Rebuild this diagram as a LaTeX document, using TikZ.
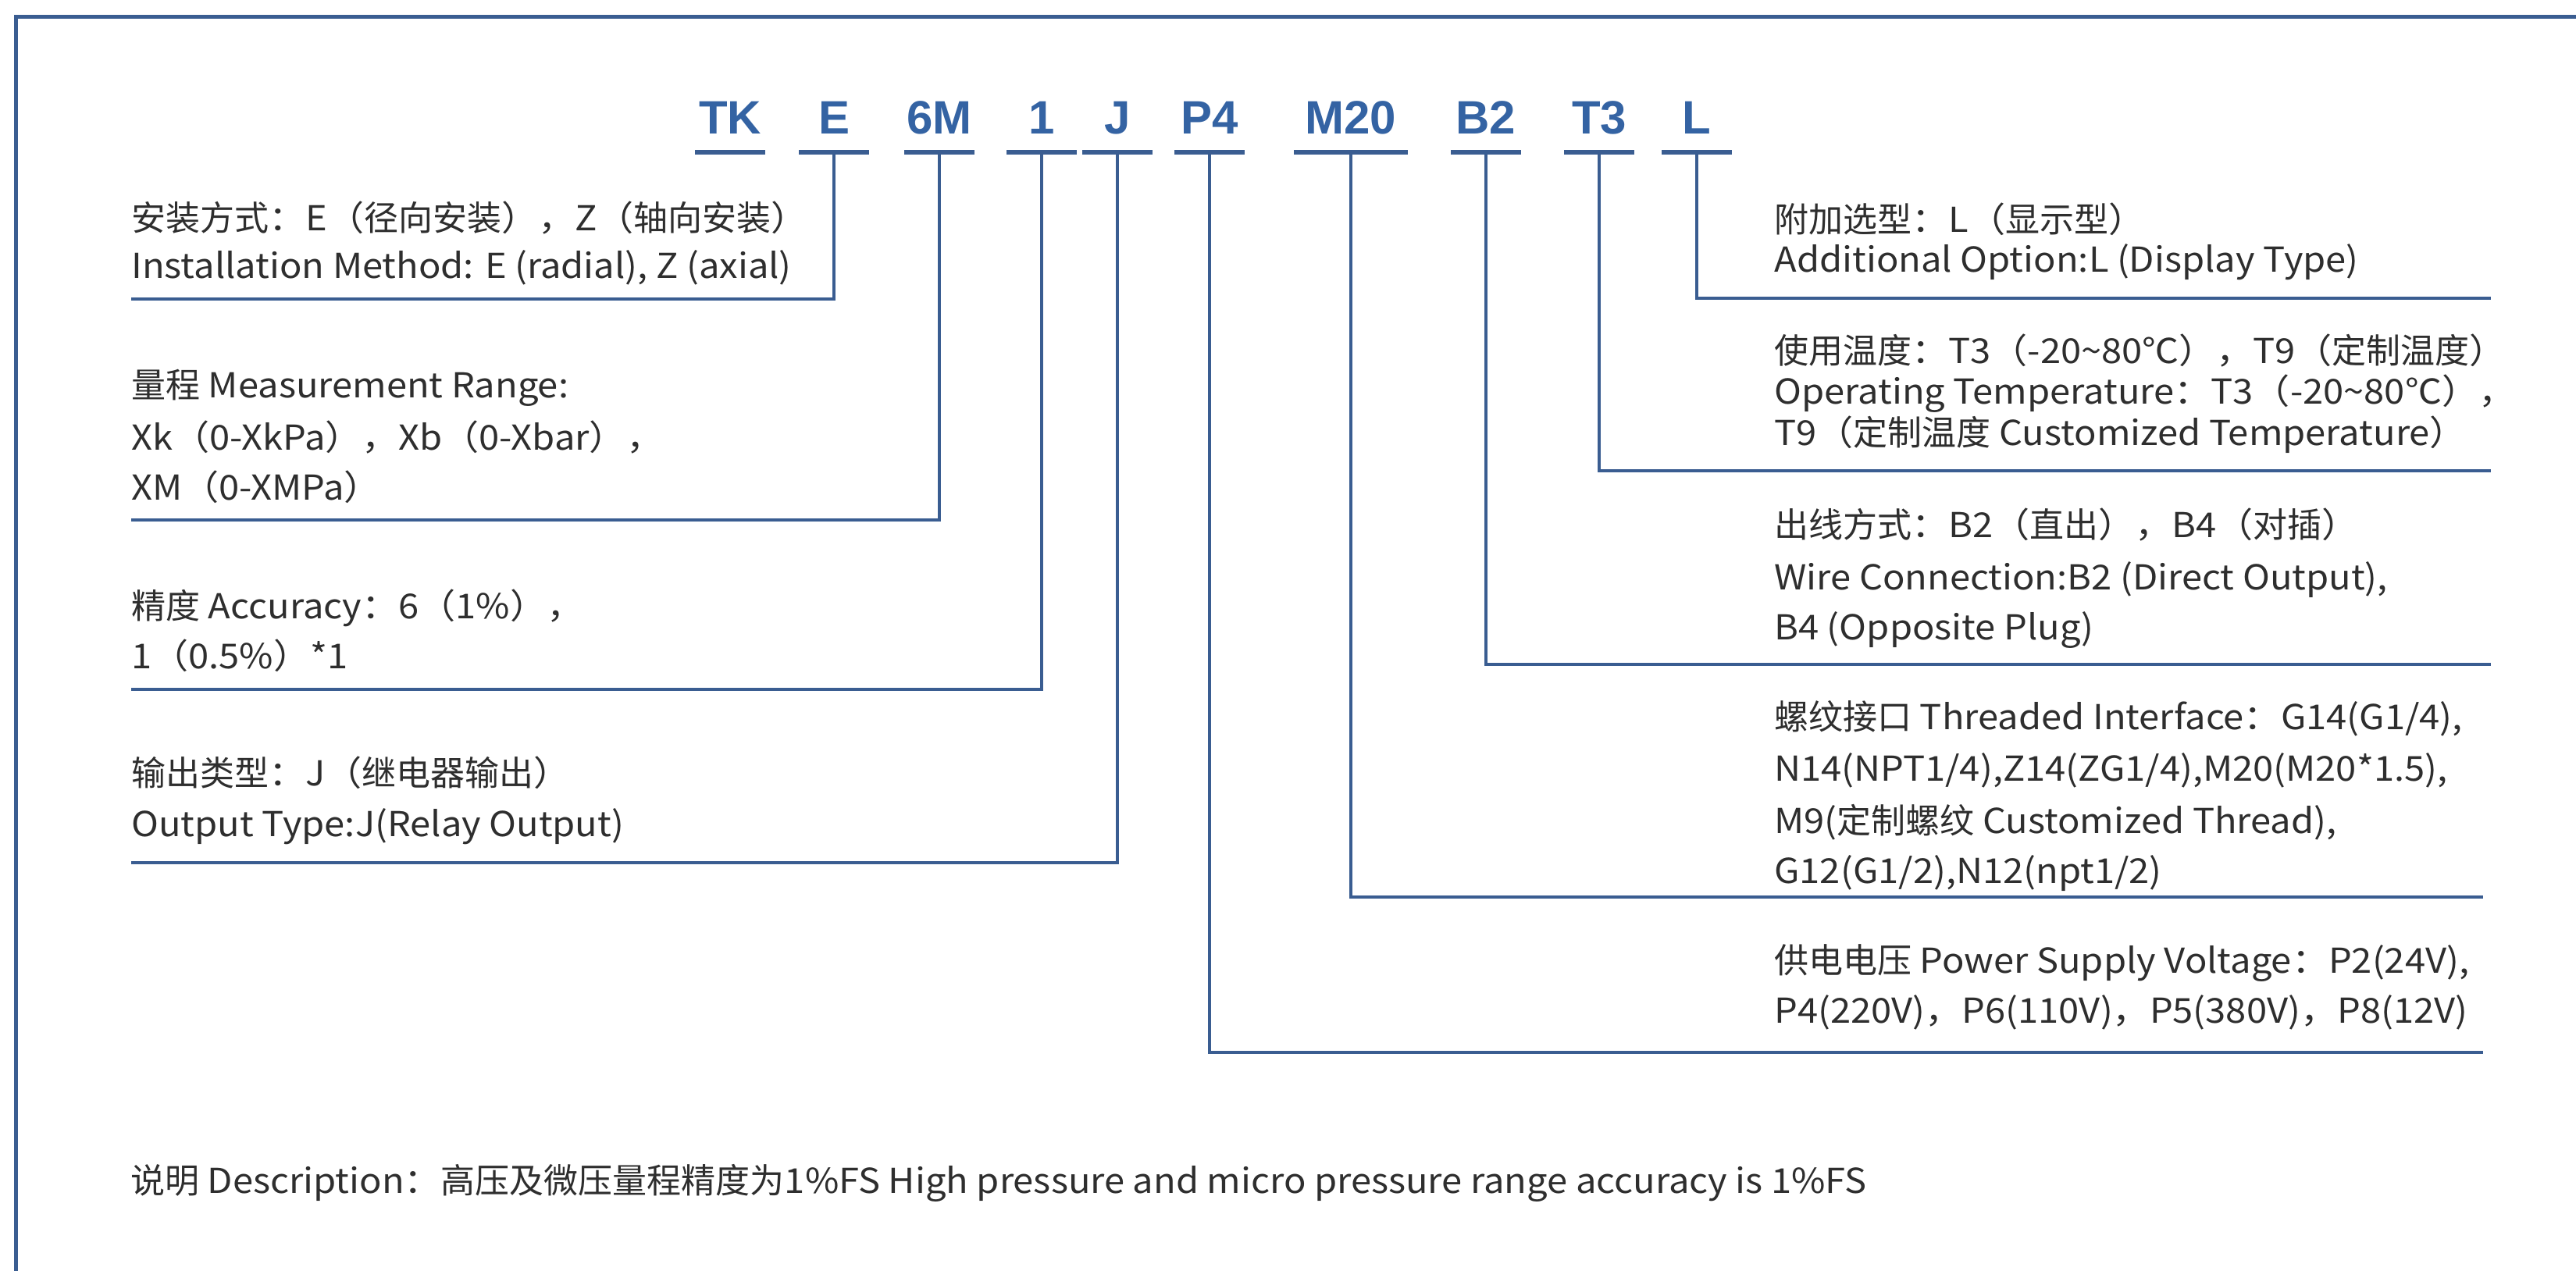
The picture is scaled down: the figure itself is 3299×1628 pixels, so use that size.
\documentclass[tikz,border=0pt]{standalone}
\usepackage{fontspec}
\setmainfont{Noto Sans CJK SC}[FakeStretch=1.07]
\newfontfamily\zhfont{Noto Sans CJK SC}
\newcommand\zh[1]{{\zhfont #1}}
\newfontfamily\codefont{Liberation Sans}
\definecolor{lineblue}{HTML}{3A5D91}
\definecolor{codeblue}{HTML}{3463A3}
\definecolor{txt}{HTML}{2E2E2E}
\newcommand\codeitem[4]{%
  \node[code] (c#1) at (#2,171) {#3};
  \coordinate (b#1) at (#2,195);
  \draw[bar] (#2-#4,195) -- (#2+#4,195);
}
\newcommand\dline[4]{\node[desc] (#1) at (#2,#3+15) {#4};}
\begin{document}
\begin{tikzpicture}[x=0.5pt,y=-0.5pt,
  desc/.style={anchor=base west, inner sep=0pt,
    font=\fontsize{22}{26}\selectfont, text=txt},
  code/.style={inner sep=0pt, anchor=base,
    font=\codefont\bfseries\fontsize{30}{32}\selectfont, text=codeblue},
  bar/.style={line width=3pt, draw=lineblue},
  conn/.style={line width=2.3pt, draw=lineblue},
  framestyle/.style={line width=2.5pt, draw=lineblue}]
\useasboundingbox (0,0) rectangle (3299,1628);
\fill[white] (0,0) rectangle (3299,1628);
% frame
\coordinate (fTL) at (20,21);
\coordinate (fTR) at (3299,21);
\coordinate (fBL) at (20,1628);
\draw[framestyle] (fTR) -- (fTL) -- (fBL);
% code letters
\codeitem{TK}{935}{TK}{45}
\codeitem{E}{1068}{E}{45}
\codeitem{R}{1203}{6M}{45}
\codeitem{A}{1334}{1}{45}
\codeitem{J}{1431}{J}{45}
\codeitem{P}{1549}{P4}{45}
\codeitem{M}{1730}{M20}{73}
\codeitem{B}{1903}{B2}{45}
\codeitem{T}{2048}{T3}{45}
\codeitem{L}{2173}{L}{45}
% left descriptions
\dline{d1}{168}{280}{\zh{安装方式}：E（\zh{径向安装}），Z（\zh{轴向安装}）}
\dline{d2}{168}{341}{Installation Method: E (radial), Z (axial)}
\dline{d3}{168}{494}{\zh{量程} Measurement Range:}
\dline{d4}{168}{561}{Xk（0-XkPa），Xb（0-Xbar），}
\dline{d5}{168}{625}{XM（0-XMPa）}
\dline{d6}{168}{777}{\zh{精度} Accuracy：6（1\%），}
\dline{d7}{168}{841}{1（0.5\%）*1}
\dline{d8}{168}{991}{\zh{输出类型}：J（\zh{继电器输出}）}
\dline{d9}{168}{1056}{Output Type:J(Relay Output)}
% right descriptions
\dline{r1}{2272}{282}{\zh{附加选型}：L（\zh{显示型}）}
\dline{r2}{2272}{333}{Additional Option:L (Display Type)}
\dline{r3}{2272}{450}{\zh{使用温度}：T3（-20\textasciitilde80℃），T9（\zh{定制温度}）}
\dline{r4}{2272}{502}{Operating Temperature：T3（-20\textasciitilde80℃），}
\dline{r5}{2272}{555}{T9（\zh{定制温度} Customized Temperature）}
\dline{r6}{2272}{673}{\zh{出线方式}：B2（\zh{直出}），B4（\zh{对插}）}
\dline{r7}{2272}{740}{Wire Connection:B2 (Direct Output),}
\dline{r8}{2272}{804}{B4 (Opposite Plug)}
\dline{r9}{2272}{919}{\zh{螺纹接口} Threaded Interface：G14(G1/4),}
\dline{r10}{2272}{985}{N14(NPT1/4),Z14(ZG1/4),M20(M20*1.5),}
\dline{r11}{2272}{1052}{M9(\zh{定制螺纹} Customized Thread),}
\dline{r12}{2272}{1116}{G12(G1/2),N12(npt1/2)}
\dline{r13}{2272}{1231}{\zh{供电电压} Power Supply Voltage：P2(24V),}
\dline{r14}{2272}{1295}{P4(220V)，P6(110V)，P5(380V)，P8(12V)}
% note
\dline{note}{167}{1513}{\zh{说明} Description：\zh{高压及微压量程精度为}1\%FS High pressure and micro pressure range accuracy is 1\%FS}
% connector end points
\coordinate (eE) at (168,383);
\coordinate (eR) at (168,666);
\coordinate (eA) at (168,883);
\coordinate (eJ) at (168,1105);
\coordinate (eL) at (3190,382);
\coordinate (eT) at (3190,603);
\coordinate (eB) at (3190,851);
\coordinate (eM) at (3180,1149);
\coordinate (eP) at (3180,1348);
\foreach \k in {E,R,A,J,L,T,B,M,P}{\draw[conn] (b\k) |- (e\k);}
\end{tikzpicture}
\end{document}
